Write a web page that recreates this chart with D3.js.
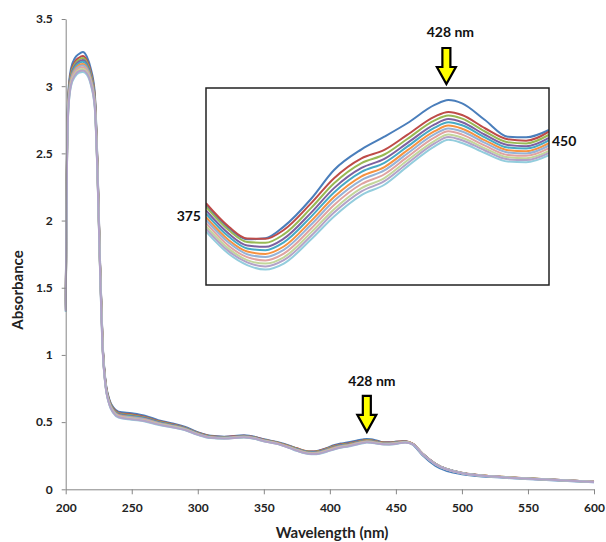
<!DOCTYPE html>
<html>
<head>
<meta charset="utf-8">
<script src="https://cdn.jsdelivr.net/npm/d3@7"></script>
<style>
  body { margin: 0; background: #fff; }
  text { font-family: Lato, "Open Sans", sans-serif; font-weight: bold; }
</style>
</head>
<body>
<svg id="chart"></svg>
<script>
// wavelength grid (nm)
const wavelengths = [200, 201, 202, 204, 207, 210, 213, 216, 219, 222, 224, 226, 228, 230, 233, 236, 240, 250, 260, 270,
  280, 290, 300, 310, 320, 335, 345, 350, 360, 370, 375, 380, 384, 388, 392, 398, 403, 409, 414, 419,
  425, 428, 431, 436, 441, 445, 450, 457, 463, 470, 480, 500, 530, 560, 600];

// absorbance of each spectrum
const blue = [1.40, 2.55, 2.95, 3.13, 3.21, 3.24, 3.255, 3.22, 3.13, 2.95, 2.45, 1.70, 1.08, 0.82, 0.67, 0.61, 0.578, 0.566, 0.548, 0.515,
  0.492, 0.466, 0.425, 0.398, 0.392, 0.402, 0.386, 0.372, 0.352, 0.322, 0.3035, 0.2880, 0.2805, 0.2812, 0.2891, 0.3080, 0.3275, 0.3415, 0.3501, 0.3592,
  0.3716, 0.3750, 0.3727, 0.3614, 0.3501, 0.3497, 0.3546, 0.358, 0.330, 0.255, 0.175, 0.112, 0.087, 0.071, 0.053];
const red = [1.384, 2.524, 2.924, 3.104, 3.182, 3.212, 3.225, 3.193, 3.106, 2.928, 2.432, 1.686, 1.070, 0.812, 0.662, 0.602, 0.569, 0.556, 0.539, 0.508,
  0.486, 0.461, 0.421, 0.395, 0.389, 0.399, 0.383, 0.369, 0.349, 0.319, 0.3050, 0.2890, 0.2810, 0.2808, 0.2868, 0.3050, 0.3219, 0.3354, 0.3411, 0.3513,
  0.3637, 0.3669, 0.3648, 0.3558, 0.3483, 0.3474, 0.3535, 0.357, 0.338, 0.268, 0.190, 0.123, 0.093, 0.076, 0.057];
const green = [1.376, 2.511, 2.911, 3.091, 3.167, 3.197, 3.209, 3.179, 3.094, 2.917, 2.423, 1.679, 1.065, 0.808, 0.658, 0.598, 0.564, 0.551, 0.535, 0.504,
  0.483, 0.458, 0.419, 0.393, 0.387, 0.397, 0.381, 0.367, 0.348, 0.317, 0.3025, 0.2866, 0.2787, 0.2781, 0.2838, 0.3018, 0.3185, 0.3322, 0.3380, 0.3485,
  0.3611, 0.3644, 0.3623, 0.3536, 0.3463, 0.3455, 0.3514, 0.356, 0.337, 0.267, 0.189, 0.122, 0.093, 0.076, 0.057];
const purple = [1.367, 2.497, 2.897, 3.077, 3.153, 3.183, 3.194, 3.165, 3.081, 2.905, 2.413, 1.671, 1.060, 0.804, 0.654, 0.593, 0.560, 0.546, 0.530, 0.501,
  0.480, 0.456, 0.417, 0.391, 0.386, 0.396, 0.380, 0.366, 0.346, 0.315, 0.3000, 0.2842, 0.2763, 0.2754, 0.2809, 0.2986, 0.3152, 0.3289, 0.3350, 0.3457,
  0.3584, 0.3620, 0.3599, 0.3514, 0.3444, 0.3436, 0.3493, 0.355, 0.337, 0.266, 0.189, 0.122, 0.092, 0.076, 0.057];
const aqua = [1.360, 2.486, 2.886, 3.066, 3.141, 3.171, 3.181, 3.153, 3.071, 2.895, 2.405, 1.665, 1.055, 0.800, 0.650, 0.590, 0.556, 0.542, 0.526, 0.498,
  0.477, 0.454, 0.415, 0.390, 0.385, 0.394, 0.379, 0.365, 0.345, 0.314, 0.2979, 0.2822, 0.2743, 0.2731, 0.2784, 0.2959, 0.3123, 0.3262, 0.3324, 0.3433,
  0.3562, 0.3599, 0.3578, 0.3496, 0.3427, 0.3420, 0.3476, 0.354, 0.336, 0.266, 0.188, 0.122, 0.092, 0.075, 0.056];
const orange = [1.353, 2.473, 2.873, 3.053, 3.127, 3.157, 3.166, 3.140, 3.059, 2.885, 2.397, 1.659, 1.050, 0.796, 0.646, 0.586, 0.552, 0.537, 0.522, 0.494,
  0.474, 0.451, 0.413, 0.388, 0.383, 0.393, 0.377, 0.363, 0.344, 0.312, 0.2955, 0.2799, 0.2722, 0.2706, 0.2756, 0.2930, 0.3092, 0.3232, 0.3295, 0.3408,
  0.3538, 0.3576, 0.3555, 0.3476, 0.3409, 0.3402, 0.3457, 0.353, 0.336, 0.265, 0.188, 0.121, 0.092, 0.075, 0.056];
const lightBlue = [1.346, 2.463, 2.863, 3.043, 3.116, 3.146, 3.154, 3.129, 3.049, 2.876, 2.390, 1.653, 1.046, 0.793, 0.643, 0.582, 0.548, 0.534, 0.519, 0.492,
  0.472, 0.449, 0.412, 0.387, 0.382, 0.391, 0.376, 0.362, 0.342, 0.311, 0.2936, 0.2781, 0.2704, 0.2685, 0.2733, 0.2905, 0.3066, 0.3207, 0.3272, 0.3386,
  0.3518, 0.3557, 0.3536, 0.3459, 0.3394, 0.3387, 0.3441, 0.352, 0.335, 0.264, 0.187, 0.121, 0.091, 0.075, 0.056];
const pink = [1.339, 2.451, 2.851, 3.031, 3.104, 3.134, 3.141, 3.117, 3.039, 2.866, 2.382, 1.647, 1.042, 0.790, 0.640, 0.579, 0.545, 0.529, 0.515, 0.488,
  0.469, 0.447, 0.410, 0.385, 0.381, 0.390, 0.375, 0.361, 0.341, 0.309, 0.2915, 0.2760, 0.2684, 0.2662, 0.2708, 0.2878, 0.3038, 0.3180, 0.3246, 0.3362,
  0.3496, 0.3537, 0.3515, 0.3440, 0.3377, 0.3371, 0.3423, 0.351, 0.335, 0.264, 0.187, 0.120, 0.091, 0.075, 0.056];
const lightGreen = [1.332, 2.440, 2.840, 3.020, 3.091, 3.121, 3.128, 3.106, 3.028, 2.857, 2.374, 1.641, 1.038, 0.786, 0.636, 0.575, 0.541, 0.525, 0.511, 0.485,
  0.467, 0.445, 0.408, 0.384, 0.379, 0.388, 0.373, 0.359, 0.340, 0.308, 0.2894, 0.2740, 0.2664, 0.2640, 0.2683, 0.2852, 0.3009, 0.3152, 0.3220, 0.3339,
  0.3473, 0.3516, 0.3494, 0.3422, 0.3361, 0.3355, 0.3405, 0.350, 0.334, 0.263, 0.186, 0.120, 0.091, 0.074, 0.055];
const lightAqua = [1.320, 2.420, 2.820, 3.000, 3.070, 3.100, 3.105, 3.085, 3.010, 2.840, 2.360, 1.630, 1.030, 0.780, 0.630, 0.568, 0.534, 0.518, 0.505, 0.480,
  0.462, 0.441, 0.405, 0.381, 0.377, 0.386, 0.371, 0.357, 0.338, 0.305, 0.2857, 0.2705, 0.2630, 0.2600, 0.2640, 0.2805, 0.2960, 0.3105, 0.3175, 0.3298,
  0.3435, 0.3480, 0.3458, 0.3390, 0.3332, 0.3327, 0.3375, 0.348, 0.333, 0.262, 0.185, 0.119, 0.090, 0.074, 0.055];
const lavender = [1.326, 2.430, 2.830, 3.010, 3.081, 3.111, 3.117, 3.096, 3.020, 2.849, 2.367, 1.636, 1.034, 0.783, 0.633, 0.572, 0.538, 0.522, 0.508, 0.483,
  0.464, 0.443, 0.407, 0.383, 0.378, 0.387, 0.372, 0.358, 0.339, 0.306, 0.2876, 0.2723, 0.2648, 0.2621, 0.2663, 0.2829, 0.2986, 0.3130, 0.3199, 0.3319,
  0.3455, 0.3499, 0.3477, 0.3407, 0.3347, 0.3342, 0.3391, 0.349, 0.334, 0.263, 0.186, 0.119, 0.090, 0.074, 0.055];

const seriesList = [blue, red, green, purple, aqua, orange, lightBlue, pink, lightGreen, lightAqua, lavender];
const seriesColors = ['#4A7EBB', '#BE4B48', '#98B954', '#7D60A0', '#46AAC5', '#F69240',
  '#95B3D7', '#E0A3A1', '#C3D69B', '#93CDDD', '#B3A2C7'];

const xTicks = [200, 250, 300, 350, 400, 450, 500, 550, 600];
const yTicks = [0, 0.5, 1, 1.5, 2, 2.5, 3, 3.5];
const insetRange = [375, 450];
const peakLabel = '428 nm';
const peakWavelength = 428;

const width = 606, height = 542;
const svg = d3.select('#chart').attr('width', width).attr('height', height);

// main chart scales
const x = d3.scaleLinear().domain([200, 600]).range([65.7, 594]);
const y = d3.scaleLinear().domain([0, 3.5]).range([489.3, 19]);

const line = d3.line()
  .x(d => x(d[0]))
  .y(d => y(d[1]))
  .curve(d3.curveMonotoneX);

const mainLines = svg.append('g');
seriesList.forEach((s, i) => {
  mainLines.append('path')
    .attr('d', line(wavelengths.map((w, j) => [w, s[j]])))
    .attr('fill', 'none')
    .attr('stroke', seriesColors[i])
    .attr('stroke-width', 2);
});

// axes
const xAxis = svg.append('g')
  .attr('transform', `translate(0,${y(0)})`)
  .call(d3.axisBottom(x).tickValues(xTicks).tickSize(5).tickSizeOuter(0).tickPadding(9));
const yAxis = svg.append('g')
  .attr('transform', `translate(${x(200)},0)`)
  .call(d3.axisLeft(y).tickValues(yTicks).tickFormat(d => d).tickSize(4).tickSizeOuter(0).tickPadding(9));

[xAxis, yAxis].forEach(a => {
  a.select('.domain').attr('stroke', '#868686');
  a.selectAll('.tick line').attr('stroke', '#868686');
  a.selectAll('.tick text').attr('fill', '#222').style('font-size', '12px')
    .style('font-family', 'Lato, "Open Sans", sans-serif').style('font-weight', 'bold');
});

svg.append('text')
  .attr('x', 332)
  .attr('y', 538)
  .attr('text-anchor', 'middle')
  .style('font-size', '15px')
  .attr('fill', '#222')
  .text('Wavelength (nm)');

svg.append('text')
  .attr('transform', 'translate(23,290) rotate(-90)')
  .attr('text-anchor', 'middle')
  .style('font-size', '15px')
  .attr('fill', '#222')
  .text('Absorbance');

// arrow pointing down, tip at (0,0)
function arrow(g, tx, ty) {
  g.append('path')
    .attr('d', 'M-4,-36 L4,-36 L4,-17 L9.5,-17 L0,0 L-9.5,-17 L-4,-17 Z')
    .attr('transform', `translate(${tx},${ty})`)
    .attr('fill', '#FFFF00')
    .attr('stroke', '#000')
    .attr('stroke-width', 2.2)
    .attr('stroke-linejoin', 'miter');
}

// main chart peak marker
const peakIdx = wavelengths.indexOf(peakWavelength);
arrow(svg, x(peakWavelength), y(blue[peakIdx]) - 7);
svg.append('text')
  .attr('x', x(peakWavelength) + 5)
  .attr('y', 386)
  .attr('text-anchor', 'middle')
  .style('font-size', '14px')
  .attr('fill', '#111')
  .text(peakLabel);

// inset
const box = { x0: 206, x1: 549, y0: 88, y1: 285 };
const xi = d3.scaleLinear().domain(insetRange).range([box.x0, box.x1]);
const yi = d3.scaleLinear().domain([0.2495, 0.3831]).range([box.y1, box.y0]);

svg.append('defs').append('clipPath').attr('id', 'insetClip')
  .append('rect')
  .attr('x', box.x0).attr('y', box.y0)
  .attr('width', box.x1 - box.x0).attr('height', box.y1 - box.y0);

svg.append('rect')
  .attr('x', box.x0).attr('y', box.y0)
  .attr('width', box.x1 - box.x0).attr('height', box.y1 - box.y0)
  .attr('fill', '#fff');

const insetLine = d3.line()
  .x(d => xi(d[0]))
  .y(d => yi(d[1]))
  .curve(d3.curveMonotoneX);

const insetG = svg.append('g').attr('clip-path', 'url(#insetClip)');
seriesList.forEach((s, i) => {
  const pts = wavelengths.map((w, j) => [w, s[j]])
    .filter(d => d[0] >= insetRange[0] && d[0] <= insetRange[1]);
  insetG.append('path')
    .attr('d', insetLine(pts))
    .attr('fill', 'none')
    .attr('stroke', seriesColors[i])
    .attr('stroke-width', 2);
});

svg.append('rect')
  .attr('x', box.x0).attr('y', box.y0)
  .attr('width', box.x1 - box.x0).attr('height', box.y1 - box.y0)
  .attr('fill', 'none')
  .attr('stroke', '#222')
  .attr('stroke-width', 1.5);

svg.append('text')
  .attr('x', box.x0 - 5)
  .attr('y', 221)
  .attr('text-anchor', 'end')
  .style('font-size', '14px')
  .attr('fill', '#111')
  .text(insetRange[0]);

svg.append('text')
  .attr('x', box.x1 + 3)
  .attr('y', 146)
  .style('font-size', '14px')
  .attr('fill', '#111')
  .text(insetRange[1]);

arrow(svg, xi(peakWavelength) - 2, box.y0 - 4);
svg.append('text')
  .attr('x', xi(peakWavelength) + 2)
  .attr('y', 37)
  .attr('text-anchor', 'middle')
  .style('font-size', '14px')
  .attr('fill', '#111')
  .text(peakLabel);
</script>
</body>
</html>
